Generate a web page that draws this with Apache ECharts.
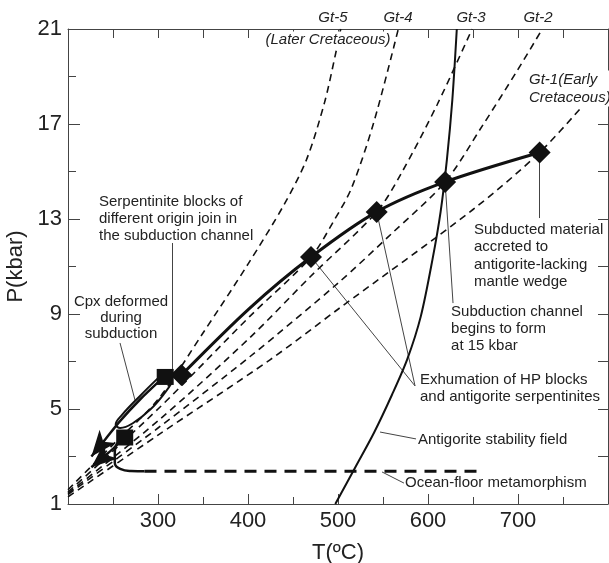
<!DOCTYPE html>
<html><head><meta charset="utf-8">
<script src="https://cdn.jsdelivr.net/npm/echarts@6/dist/echarts.min.js"></script>
<style>html,body{margin:0;padding:0;background:#fff}#c{width:609px;height:563px}</style>
</head><body><div id="c"></div>
<script>
// ---- data (T in ºC, P in kbar) ----
const xLabelTicks = [300, 400, 500, 600, 700];
const yLabelTicks = [1, 5, 9, 13, 17, 21];

const gt1 = [[200,1.3],[300,3.9],[424,7.06],[500,9.2],[650,13.4],[724,15.8],[775,17.9]];
const gt2 = [[200,1.4],[300,4.2],[402,7.2],[500,10.3],[560,12.4],[619,14.56],[660,16.9],[700,19.3],[727,21]];
const gt3 = [[200,1.45],[300,4.5],[402,8.0],[470,10.6],[543,13.3],[570,14.9],[610,17.8],[649,21]];
const gt4 = [[200,1.5],[300,5.0],[402,8.9],[470,11.4],[495,12.9],[515,14.3],[540,17.1],[567,21]];
const gt5 = [[200,1.6],[250,3.5],[300,5.4],[350,8.2],[400,11.1],[440,13.6],[465,15.5],[485,17.9],[497,19.9],[503,21]];

const antigorite = [[497,1.0],[520,2.6],[540,4.0],[560,5.6],[577,7.1],[592,8.9],[605,11.3],[614,13.3],[621,15.5],[627,18.0],[632,21]];
const ptPath = [[326,6.43],[402,9.25],[470,11.4],[543,13.3],[619,14.56],[724,15.8]];
const cpxLoop = [[300,6.3],[280,5.55],[260,4.75],[253,4.35],[258,4.2],[272,4.4],[292,5.0],[308,5.7],[316,6.15]];
const exhum1 = [[305,6.3],[280,5.4],[258,4.5],[242,3.75],[226,3.0]];
const exhum2 = [[262,3.9],[252,3.4],[240,3.0],[226,2.55]];
const oceanBend = [[258,3.7],[252,3.2],[252,2.75],[258,2.48],[270,2.39],[285,2.38]];
const oceanFloor = [[285,2.38],[655,2.38]];

const diamonds = [[326,6.43],[470,11.4],[543,13.3],[619,14.56],[724,15.8]];
const squares = [[308,6.35],[263,3.8]];

const leaders = [
  [[315.6,11.99],[315.6,6.6]],
  [[257.8,7.78],[274.4,5.38]],
  [[724,15.8],[724,13.04]],
  [[619,14.56],[627.8,9.46]],
  [[470,11.4],[585.6,5.97]],
  [[543,13.3],[585.6,5.97]],
  [[546.7,4.03],[586.7,3.74]],
  [[548.9,2.35],[573.3,1.88]]
];

// text annotations: [text, T, P(top), align, lineHeight, italic, bg]
const notes = [
  ['Serpentinite blocks of\ndifferent origin join in\nthe subduction channel', 234.4, 14.07, 'left', 17, false, false],
  ['Cpx deformed\nduring\nsubduction', 258.9, 9.84, 'center', 16, false, false],
  ['Subducted material\naccreted to\nantigorite-lacking\nmantle wedge', 651.1, 12.92, 'left', 17.5, false, false],
  ['Subduction channel\nbegins to form\nat 15 kbar', 625.6, 9.44, 'left', 17, false, false],
  ['Exhumation of HP blocks\nand antigorite serpentinites', 591.1, 6.58, 'left', 17, false, false],
  ['Antigorite stability field', 588.9, 4.05, 'left', 17, false, false],
  ['Ocean-floor metamorphism', 574.4, 2.24, 'left', 17, false, false],
  ['Gt-5', 494.4, 21.82, 'center', 17, true, false],
  ['Gt-4', 566.7, 21.82, 'center', 17, true, false],
  ['Gt-3', 647.8, 21.82, 'center', 17, true, false],
  ['Gt-2', 722.2, 21.82, 'center', 17, true, false],
  ['(Later Cretaceous)', 488.9, 20.9, 'center', 17, true, true],
  ['Gt-1(Early\nCretaceous)', 710, 19.25, 'left', 18, true, true]
];

const FONT = '"Liberation Sans", Arial, sans-serif';
const INK = '#111';
// barbed arrowhead, tip at the symbol centre, pointing up
const ARROW = 'path://M0,-22 M0,0 L7,22 L0,16 L-7,22 Z';
const chart = echarts.init(document.getElementById('c'), null, {renderer: 'canvas'});

function dashed(data, name) {
  return {type: 'line', name, data, showSymbol: false, symbol: 'none', smooth: 0.3,
    lineStyle: {color: INK, width: 1.6, type: [7, 5]}, z: 2, silent: true};
}
function solid(data, w, sm) {
  return {type: 'line', data, symbol: 'none', showSymbol: false, smooth: sm,
    lineStyle: {color: INK, width: w}, z: 3, silent: true};
}

const axisCommon = {
  min: 200, max: 800, interval: 100,
  axisLine: {show: true, lineStyle: {color: '#444', width: 1}},
  splitLine: {show: false}
};

chart.setOption({
  animation: false,
  backgroundColor: '#fff',
  grid: {left: 68, right: 1, top: 29, bottom: 59, containLabel: false, outerBoundsMode: 'none'},
  xAxis: [
    Object.assign({}, axisCommon, {
      type: 'value', position: 'bottom', name: 'T(ºC)', nameLocation: 'middle', nameGap: 38,
      nameTextStyle: {fontFamily: FONT, fontSize: 22, color: '#222'},
      axisTick: {inside: true, length: 10, lineStyle: {color: '#444'}},
      minorTick: {show: true, splitNumber: 2, length: 7, lineStyle: {color: '#444'}},
      axisLabel: {fontFamily: FONT, fontSize: 22, color: '#222', margin: 6,
        formatter: v => xLabelTicks.indexOf(v) >= 0 ? String(v) : ''}
    }),
    Object.assign({}, axisCommon, {
      type: 'value', position: 'top',
      axisTick: {inside: true, length: 9, lineStyle: {color: '#444'}},
      minorTick: {show: true, splitNumber: 2, length: 9, lineStyle: {color: '#444'}},
      axisLabel: {show: false}
    })
  ],
  yAxis: [
    {type: 'value', min: 1, max: 21, interval: 4, position: 'left',
      name: 'P(kbar)', nameLocation: 'middle', nameGap: 33, nameRotate: 90,
      nameTextStyle: {fontFamily: FONT, fontSize: 22, color: '#222'},
      axisLine: {show: true, lineStyle: {color: '#444', width: 1}},
      axisTick: {inside: true, length: 12, lineStyle: {color: '#444'}},
      minorTick: {show: true, splitNumber: 2, length: 8, lineStyle: {color: '#444'}},
      splitLine: {show: false},
      axisLabel: {fontFamily: FONT, fontSize: 22, color: '#222', margin: 6,
        formatter: v => yLabelTicks.indexOf(v) >= 0 ? String(v) : ''}},
    {type: 'value', min: 1, max: 21, interval: 4, position: 'right',
      axisLine: {show: true, lineStyle: {color: '#444', width: 1}},
      axisTick: {inside: true, length: 10, lineStyle: {color: '#444'}},
      minorTick: {show: true, splitNumber: 2, length: 10, lineStyle: {color: '#444'}},
      splitLine: {show: false}, axisLabel: {show: false}}
  ],
  series: [
    dashed(gt1, 'Gt-1'), dashed(gt2, 'Gt-2'), dashed(gt3, 'Gt-3'), dashed(gt4, 'Gt-4'), dashed(gt5, 'Gt-5'),
    solid(antigorite, 2, 0.3),
    solid(ptPath, 3, 0.3),
    solid(cpxLoop, 2, 0.4),
    solid(oceanBend, 2.5, 0.5),
    {type: 'line', data: oceanFloor, symbol: 'none', lineStyle: {color: INK, width: 3, type: [12, 8]}, z: 3, silent: true},
    solid(exhum1, 2.5, 0.3),
    solid(exhum2, 2.5, 0.3),
    {type: 'lines', coordinateSystem: 'cartesian2d', z: 1, silent: true,
      symbol: ['none', 'none'], lineStyle: {color: '#444', width: 1, opacity: 1},
      data: leaders.map(c => ({coords: c}))},
    {type: 'scatter', data: diamonds, symbol: 'diamond', symbolSize: 22, itemStyle: {color: INK, opacity: 1}, z: 6, silent: true},
    {type: 'scatter', data: squares, symbol: 'rect', symbolSize: [17, 16], itemStyle: {color: INK, opacity: 1}, z: 6, silent: true}
  ]
});

// arrowheads at the ends of the exhumation paths, oriented along the last segment
function arrowItem(arr) {
  const a = chart.convertToPixel({gridIndex: 0}, arr[arr.length - 2]);
  const b = chart.convertToPixel({gridIndex: 0}, arr[arr.length - 1]);
  const dx = b[0] - a[0], dy = b[1] - a[1];
  const len = Math.hypot(dx, dy);
  const rot = Math.atan2(-dx / len, -dy / len) * 180 / Math.PI;
  return {value: arr[arr.length - 1], symbolRotate: rot};
}

const graphics = notes.map(n => {
  const p = chart.convertToPixel({gridIndex: 0}, [n[1], n[2]]);
  return {type: 'text', x: p[0], y: p[1], z: 100,
    style: {text: n[0], fontFamily: FONT, fontSize: 15, fontStyle: n[5] ? 'italic' : 'normal',
      fill: '#222', align: n[3], verticalAlign: 'top', lineHeight: n[4],
      backgroundColor: n[6] ? '#fff' : null, padding: n[6] ? [0, 2, 0, 2] : 0}};
});
const opt = chart.getOption();
const series = opt.series.slice();
series.push({type: 'scatter', symbol: ARROW, symbolSize: [21, 52], itemStyle: {color: INK, opacity: 1},
  z: 7, silent: true, data: [arrowItem(exhum1), arrowItem(exhum2)]});
chart.setOption({series: series, graphic: graphics});
</script></body></html>
